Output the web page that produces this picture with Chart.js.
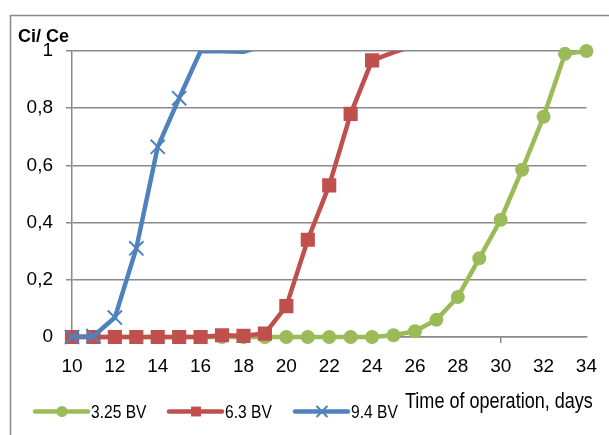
<!DOCTYPE html>
<html>
<head>
<meta charset="utf-8">
<title>Ci/Ce breakthrough curves</title>
<script src="https://cdn.jsdelivr.net/npm/chart.js@4.4.0/dist/chart.umd.min.js"></script>
<style>
  html, body { margin: 0; padding: 0; background: #fff; }
  #wrap { width: 609px; height: 435px; }
</style>
</head>
<body>
<div id="wrap"><canvas id="breakthrough-chart" width="609" height="435"></canvas></div>
<script>
// days of operation (x) and Ci/Ce
const days = [10, 11, 12, 13, 14, 15, 16, 17, 18, 19, 20, 21, 22, 23, 24, 25, 26, 27, 28, 29, 30, 31, 32, 33, 34];
const bv325 = [0, 0, 0, 0, 0, 0, 0, 0, 0, 0, 0, 0, 0, 0, 0, 0.006, 0.02, 0.06, 0.14, 0.275, 0.41, 0.585, 0.77, 0.99, 1.0];
const bv63 = [0, 0, 0, 0, 0, 0, 0, 0.006, 0.004, 0.012, 0.108, 0.34, 0.53, 0.78, 0.967, 0.995, 1.02];
const bv94 = [0, 0.003, 0.068, 0.31, 0.665, 0.835, 1.0, 0.999, 0.997, 1.02];

const seriesNames = ['3.25 BV', '6.3 BV', '9.4 BV'];
const yTickLabels = ['0', '0,2', '0,4', '0,6', '0,8', '1'];
const majorTickDays = [10, 20, 30];
const yTitle = 'Ci/ Ce';
const xTitle = 'Time of operation, days';

const green = '#9BBB59';
const red = '#C0504D';
const blue = '#4F81BD';
const gridColor = '#8a8a8a';
const tickFont = "'Liberation Sans', Arial, sans-serif";
const narrowScale = 0.82; // no Arial Narrow here, squeeze the regular face instead

function toPoints(values) {
    return values.map((v, i) => ({ x: days[i], y: v }));
}

// markers at the top are hidden in the original (line runs into the frame)
function hideAtTop(size) {
    return ctx => (ctx.raw && ctx.raw.y >= 0.99 ? 0 : size);
}

function narrowText(ctx, text, x, y) {
    ctx.save();
    ctx.translate(x, y);
    ctx.scale(narrowScale, 1);
    ctx.fillText(text, 0, 0);
    ctx.restore();
}

const legendItems = [
    { text: seriesNames[0], color: green, style: 'circle', radius: 5.5, x: 35 },
    { text: seriesNames[1], color: red, style: 'rect', radius: 7, x: 169 },
    { text: seriesNames[2], color: blue, style: 'crossRot', radius: 7, x: 295 }
];

const decorations = {
    id: 'decorations',
    beforeDraw(chart) {
        const ctx = chart.ctx;
        ctx.save();
        ctx.strokeStyle = gridColor;
        ctx.lineWidth = 1.5;
        ctx.beginPath();
        ctx.moveTo(10.5, 435);
        ctx.lineTo(10.5, 15.5);
        ctx.lineTo(609, 15.5);
        ctx.stroke();
        ctx.restore();
    },
    afterDraw(chart) {
        const ctx = chart.ctx;
        ctx.save();
        ctx.fillStyle = '#000';
        ctx.textBaseline = 'alphabetic';

        ctx.font = 'bold 18px ' + tickFont;
        ctx.fillText(yTitle, 18, 42);

        ctx.font = '22px ' + tickFont;
        narrowText(ctx, xTitle, 405, 408);

        // legend: line sample with marker, then name
        ctx.font = '19px ' + tickFont;
        legendItems.forEach(item => {
            const y = 411.5;
            ctx.strokeStyle = item.color;
            ctx.fillStyle = item.color;
            ctx.lineWidth = 4.5;
            ctx.lineCap = 'round';
            ctx.beginPath();
            ctx.moveTo(item.x, y);
            ctx.lineTo(item.x + 53, y);
            ctx.stroke();
            ctx.lineWidth = 2;
            Chart.helpers.drawPoint(ctx, {
                pointStyle: item.style,
                radius: item.radius,
                borderWidth: item.style === 'crossRot' ? 2 : 0,
                rotation: 0
            }, item.x + 27, y);
            ctx.fillStyle = '#000';
            narrowText(ctx, item.text, item.x + 56, 417.5);
        });
        ctx.restore();
    }
};

const lineBase = {
    borderWidth: 4.5,
    tension: 0,
    borderJoinStyle: 'round',
    borderCapStyle: 'round',
    fill: false
};

new Chart(document.getElementById('breakthrough-chart').getContext('2d'), {
    type: 'line',
    data: {
        datasets: [
            Object.assign({}, lineBase, {
                label: seriesNames[0],
                data: toPoints(bv325),
                borderColor: green,
                backgroundColor: green,
                pointStyle: 'circle',
                pointRadius: 7,
                pointBorderWidth: 0,
                order: 3,
                clip: { left: 12, top: 12, right: 12, bottom: 12 }
            }),
            Object.assign({}, lineBase, {
                label: seriesNames[1],
                data: toPoints(bv63),
                borderColor: red,
                backgroundColor: red,
                pointStyle: 'rect',
                pointRadius: hideAtTop(10),
                pointBorderWidth: 0,
                order: 2,
                clip: { left: 12, top: 0, right: 0, bottom: 12 }
            }),
            Object.assign({}, lineBase, {
                label: seriesNames[2],
                data: toPoints(bv94),
                borderColor: blue,
                backgroundColor: blue,
                pointStyle: 'crossRot',
                pointRadius: hideAtTop(10),
                pointBorderWidth: 2,
                pointBorderColor: blue,
                order: 1,
                clip: { left: 12, top: 0, right: 0, bottom: 12 }
            })
        ]
    },
    options: {
        responsive: false,
        animation: false,
        devicePixelRatio: 1,
        layout: { padding: { left: 0, right: 18, top: 51, bottom: 58 } },
        plugins: {
            legend: { display: false },
            tooltip: { enabled: false }
        },
        scales: {
            x: {
                type: 'linear',
                min: 10,
                max: 34,
                ticks: {
                    stepSize: 2,
                    padding: 12,
                    maxRotation: 0,
                    autoSkip: false,
                    color: '#000',
                    font: { family: tickFont, size: 19 }
                },
                grid: {
                    drawOnChartArea: false,
                    tickLength: 6,
                    lineWidth: 1.5,
                    color: ctx => (ctx.tick && majorTickDays.includes(ctx.tick.value) ? gridColor : 'rgba(0,0,0,0)')
                },
                border: { color: gridColor, width: 1.5 },
                afterFit: scale => { scale.height = 40; }
            },
            y: {
                min: 0,
                max: 1,
                ticks: {
                    stepSize: 0.2,
                    padding: 13,
                    color: '#000',
                    font: { family: tickFont, size: 19 },
                    callback: (value, index) => yTickLabels[index]
                },
                grid: { color: gridColor, lineWidth: 1.5, tickLength: 6 },
                border: { color: gridColor, width: 1.5 },
                afterFit: scale => { scale.width = 72; }
            }
        }
    },
    plugins: [decorations]
});
</script>
</body>
</html>
